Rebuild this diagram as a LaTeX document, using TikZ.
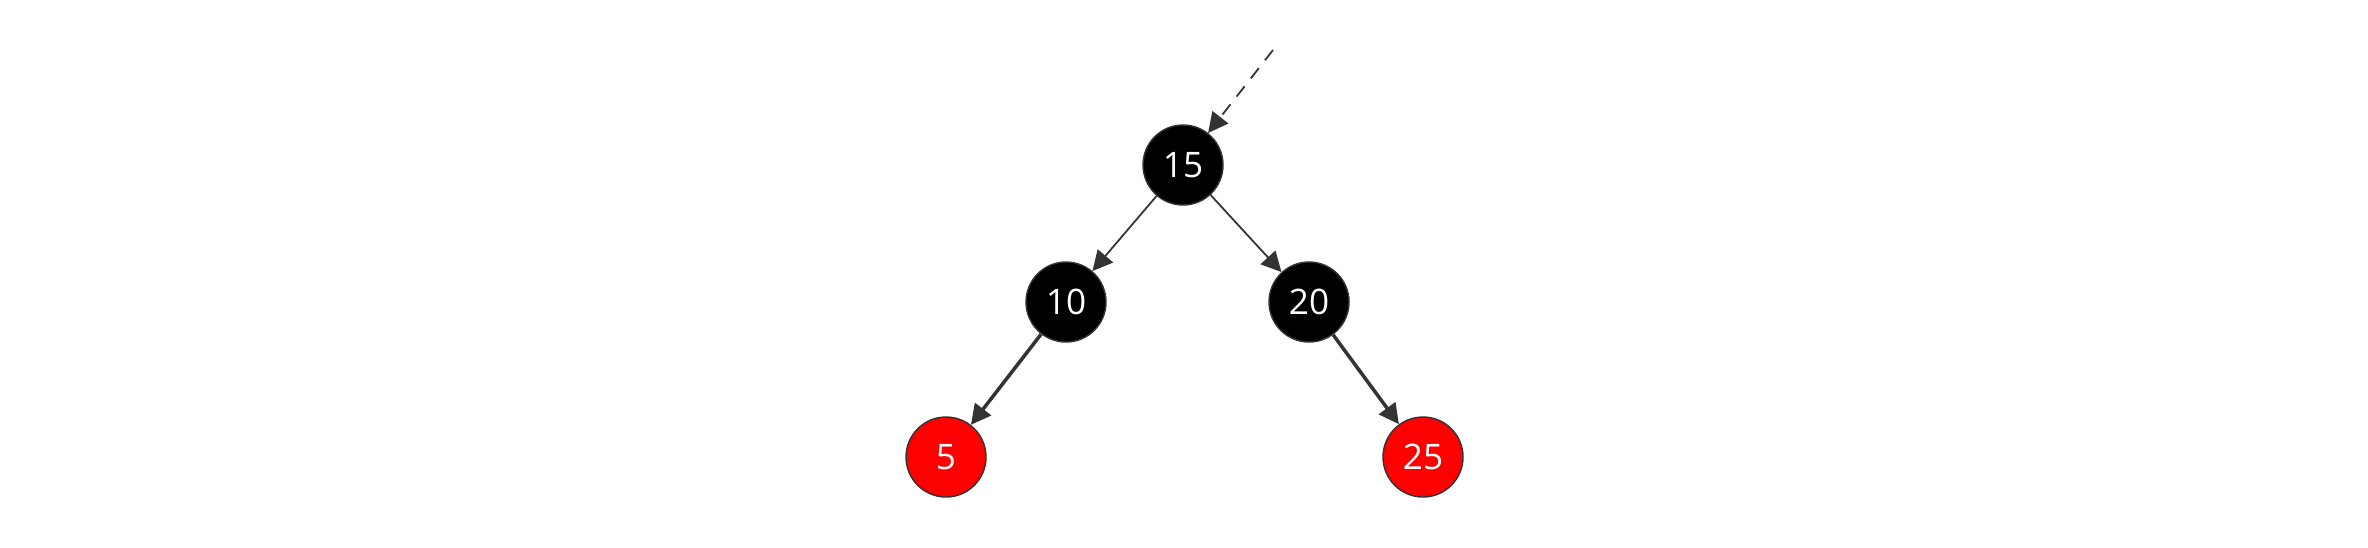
\documentclass[tikz,border=0pt]{standalone}
\usepackage{fontspec}
\setmainfont{Open Sans}
\usetikzlibrary{arrows.meta}
\definecolor{edgegray}{HTML}{333333}
\begin{document}
\begin{tikzpicture}[
    rbnode/.style={circle,draw=edgegray,line width=0.4pt,minimum size=0.8cm,inner sep=0pt,text=white,font=\fontsize{10}{12}\selectfont},
    blacknode/.style={rbnode,fill=black},
    rednode/.style={rbnode,fill=red},
    link/.style={draw=edgegray,-{Triangle[length=0.2cm,width=0.2cm]}}
  ]
  \useasboundingbox (0,0) rectangle (23.68,-5.47);
  \coordinate (top) at (12.73,-0.50);
  \node[blacknode] (n15) at (11.83,-1.65) {15};
  \node[blacknode] (n10) at (10.66,-3.02) {10};
  \node[blacknode] (n20) at (13.09,-3.02) {20};
  \node[rednode] (n5) at (9.46,-4.57) {5};
  \node[rednode] (n25) at (14.23,-4.57) {25};
  \draw[link,line width=0.5pt,dash pattern=on 0.13cm off 0.1cm] (top) -- (n15);
  \draw[link,line width=0.5pt] (n15) -- (n10);
  \draw[link,line width=0.5pt] (n15) -- (n20);
  \draw[link,line width=1pt] (n10) -- (n5);
  \draw[link,line width=1pt] (n20) -- (n25);
\end{tikzpicture}
\end{document}
